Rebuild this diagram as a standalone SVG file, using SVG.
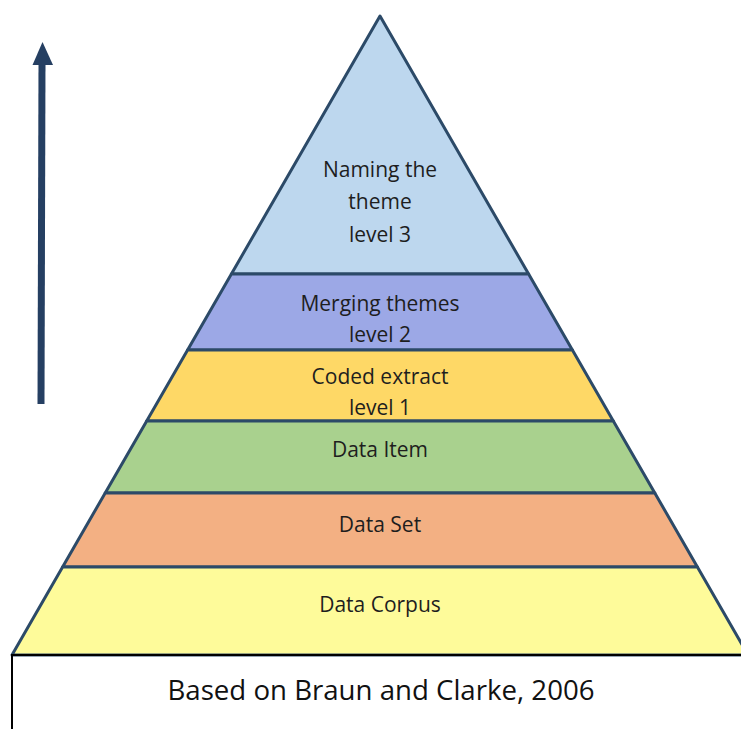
<svg xmlns="http://www.w3.org/2000/svg" width="741" height="729" viewBox="0 0 741 729">
<style>
.band{stroke:#2c4a68;stroke-width:3;stroke-linejoin:round}
.lbl{font-family:"Open Sans","Liberation Sans",sans-serif;font-size:21px;fill:#1e1e1e;text-anchor:middle}
.cap{font-family:"Open Sans","Liberation Sans",sans-serif;font-size:28px;fill:#111;text-anchor:middle}
.arrow{fill:#253f62}
</style>
<rect width="741" height="729" fill="#fff"/>
<g id="connectors">
<line x1="41" y1="404" x2="42" y2="62" stroke="#253f62" stroke-width="7"/>
<polygon class="arrow" points="42.5,42 32.5,65 53,65"/>
</g>
<g id="band-level3">
<polygon class="band" points="380,16 528.6,274 231.4,274" fill="#bdd7ee"/>
<text class="lbl" x="380" y="177">Naming the</text>
<text class="lbl" x="380" y="209">theme</text>
<text class="lbl" x="380" y="242">level 3</text>
</g>
<g id="band-level2">
<polygon class="band" points="231.4,274 528.6,274 572.4,350 187.6,350" fill="#9ca8e6"/>
<text class="lbl" x="380" y="311">Merging themes</text>
<text class="lbl" x="380" y="342">level 2</text>
</g>
<g id="band-level1">
<polygon class="band" points="187.6,350 572.4,350 613.3,421 146.7,421" fill="#fed866"/>
<text class="lbl" x="380" y="384">Coded extract</text>
<text class="lbl" x="380" y="415">level 1</text>
</g>
<g id="band-item">
<polygon class="band" points="146.7,421 613.3,421 654.8,493 105.2,493" fill="#a9d18e"/>
<text class="lbl" x="380" y="457">Data Item</text>
</g>
<g id="band-set">
<polygon class="band" points="105.2,493 654.8,493 697.4,567 62.6,567" fill="#f3b083"/>
<text class="lbl" x="380" y="532">Data Set</text>
</g>
<g id="band-corpus">
<polygon class="band" points="62.6,567 697.4,567 748,655 12,655" fill="#fefb9a"/>
<text class="lbl" x="380" y="612">Data Corpus</text>
</g>
<g id="caption">
<path d="M12,729 V655 H741" fill="none" stroke="#000" stroke-width="2"/>
<text class="cap" x="381" y="700" textLength="427" lengthAdjust="spacingAndGlyphs">Based on Braun and Clarke, 2006</text>
</g>
</svg>
